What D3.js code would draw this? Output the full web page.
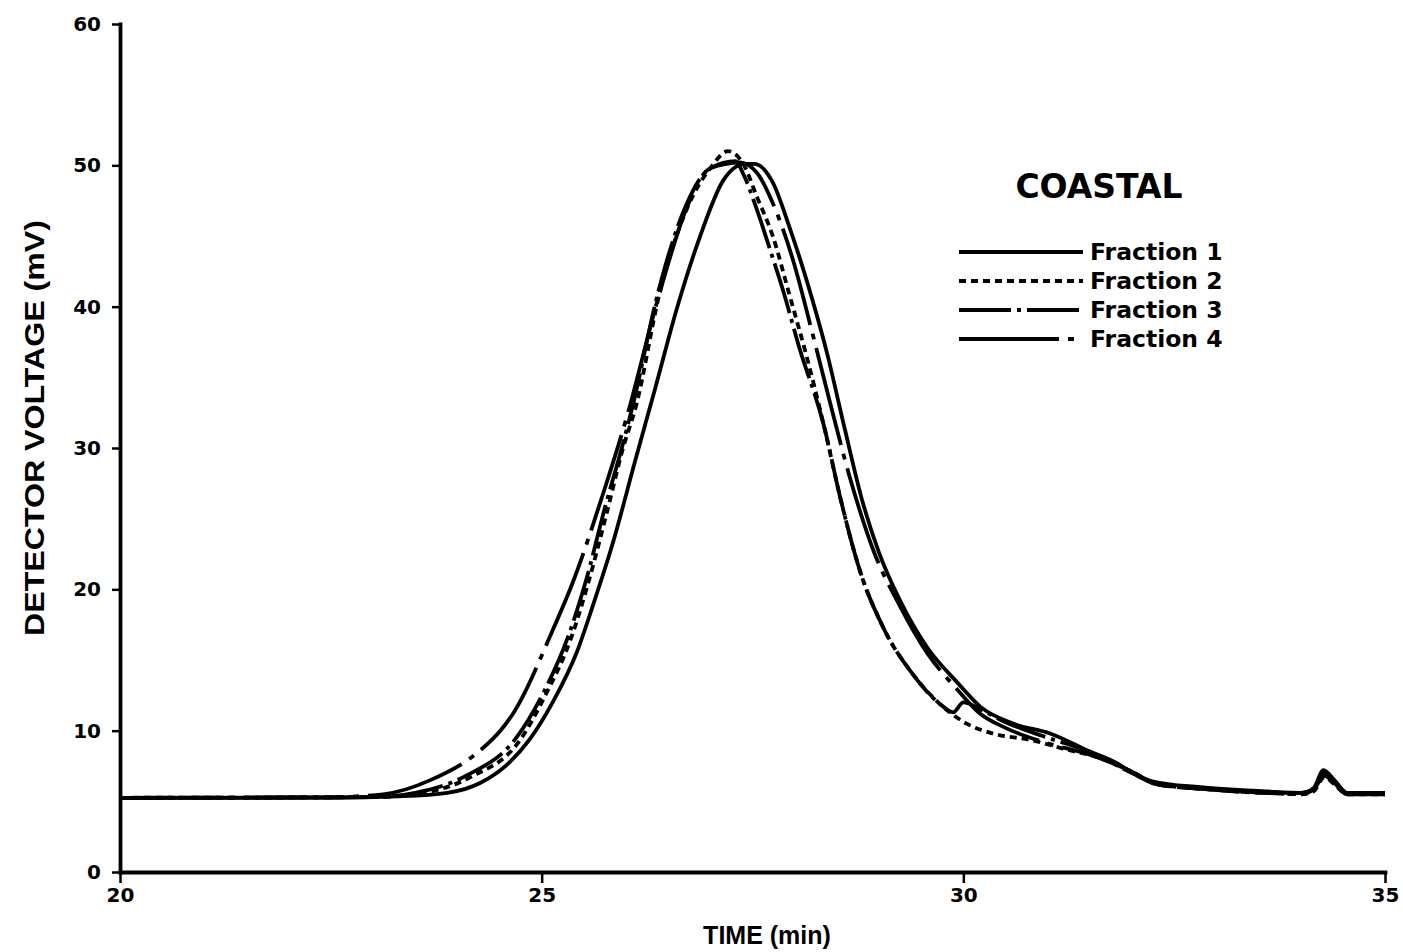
<!DOCTYPE html>
<html>
<head>
<meta charset="utf-8">
<script src="https://cdn.jsdelivr.net/npm/d3@7"></script>
<style>
  html, body { margin: 0; padding: 0; background: #fff; }
  svg { display: block; }
  text { font-family: "DejaVu Sans", "Liberation Sans", Arial, sans-serif; font-weight: bold; fill: #000; }
</style>
</head>
<body>
<svg id="chart" width="1403" height="952"></svg>
<script>
// ---- data ----
const timeTicks = [20, 25, 30, 35];
const voltTicks = [0, 10, 20, 30, 40, 50, 60];
const seriesNames = ["Fraction 1", "Fraction 2", "Fraction 3", "Fraction 4"];
const chartTitle = "COASTAL";
const xTitle = "TIME (min)";
const yTitle = "DETECTOR VOLTAGE (mV)";

const f1Time = [20, 22.5, 23.3, 23.88, 24.27, 24.59, 24.86, 25.13, 25.42, 25.61, 25.85, 26.10, 26.35, 26.60, 26.88, 27.15, 27.41, 27.52, 27.74, 27.94, 28.15, 28.38, 28.60, 28.80, 29.00, 29.25, 29.57, 29.93, 30.20, 30.59, 31.03, 31.47, 31.82, 32.01, 32.25, 32.81, 33.60, 34.00, 34.15, 34.27, 34.40, 34.55, 35.0];
const f1Volt = [5.25, 5.25, 5.35, 5.6, 6.3, 7.6, 9.4, 12.0, 15.6, 18.9, 23.4, 28.9, 34.3, 39.8, 45.0, 48.9, 50.1, 50.1, 48.8, 45.6, 41.7, 36.8, 31.2, 26.3, 22.6, 19.2, 15.9, 13.4, 11.7, 10.5, 9.8, 8.6, 7.7, 7.0, 6.4, 6.0, 5.7, 5.6, 5.9, 7.2, 6.5, 5.6, 5.6];

const f2Time = [20, 23.0, 23.6, 24.15, 24.74, 25.06, 25.34, 25.54, 25.78, 25.96, 26.12, 26.40, 26.72, 27.00, 27.21, 27.40, 27.55, 27.74, 27.94, 28.15, 28.35, 28.54, 28.78, 29.05, 29.40, 29.72, 30.04, 30.35, 30.83, 31.20, 31.60, 32.00, 32.30, 32.80, 33.60, 34.00, 34.15, 34.28, 34.40, 34.55, 35.0];
const f2Volt = [5.25, 5.3, 5.6, 6.7, 9.3, 12.7, 16.4, 20.2, 25.6, 29.9, 33.0, 41.0, 46.9, 49.8, 51.0, 50.0, 47.8, 45.0, 40.8, 36.3, 31.5, 26.5, 21.2, 17.3, 14.0, 11.9, 10.5, 9.8, 9.3, 8.7, 8.1, 7.1, 6.2, 5.9, 5.6, 5.5, 5.7, 6.7, 6.2, 5.5, 5.5];

const f3Time = [20, 23.0, 23.5, 24.1, 24.7, 25.03, 25.31, 25.52, 25.76, 25.95, 26.08, 26.38, 26.70, 27.00, 27.30, 27.39, 27.55, 27.71, 27.86, 28.05, 28.35, 28.54, 28.78, 29.05, 29.40, 29.72, 29.88, 30.00, 30.20, 30.50, 31.00, 31.50, 32.00, 32.30, 32.80, 33.60, 34.00, 34.15, 34.28, 34.40, 34.55, 35.0];
const f3Volt = [5.25, 5.3, 5.6, 6.8, 9.5, 12.8, 16.6, 20.5, 26.0, 30.0, 33.0, 41.0, 47.0, 49.8, 50.3, 49.4, 46.9, 44.0, 41.2, 37.2, 31.5, 26.5, 21.2, 17.3, 14.0, 11.9, 11.3, 12.0, 11.5, 10.6, 9.5, 8.5, 7.0, 6.2, 5.9, 5.6, 5.6, 5.9, 7.0, 6.4, 5.6, 5.6];

const f4Time = [20, 22.5, 23.12, 23.68, 24.27, 24.51, 24.66, 25.13, 25.37, 25.73, 26.00, 26.40, 26.72, 27.00, 27.35, 27.55, 27.75, 27.98, 28.22, 28.42, 28.65, 28.95, 29.25, 29.57, 29.93, 30.20, 30.50, 31.00, 31.50, 32.00, 32.30, 32.80, 33.60, 34.00, 34.15, 34.28, 34.40, 34.55, 35.0];
const f4Volt = [5.25, 5.3, 5.5, 6.5, 8.6, 10.0, 11.2, 17.1, 20.5, 26.8, 32.0, 41.0, 47.0, 49.8, 50.2, 49.5, 47.2, 43.3, 37.9, 33.2, 28.0, 22.5, 18.8, 15.5, 12.9, 11.2, 10.2, 9.1, 8.3, 7.1, 6.2, 5.9, 5.6, 5.5, 5.8, 6.8, 6.3, 5.5, 5.5];

// ---- layout / styles ----
const plot = { left: 120, right: 1385, top: 24, bottom: 872 };
const dashes = [null, "7,5", "52,6,4,6", "100,9,6,9"];
const lineW = 3.8;

const svg = d3.select("#chart");
const x = d3.scaleLinear().domain([20, 35]).range([plot.left, plot.right]);
const y = d3.scaleLinear().domain([0, 60]).range([plot.bottom, plot.top]);

const series = [
  { name: seriesNames[0], t: f1Time, v: f1Volt },
  { name: seriesNames[1], t: f2Time, v: f2Volt },
  { name: seriesNames[2], t: f3Time, v: f3Volt },
  { name: seriesNames[3], t: f4Time, v: f4Volt }
].map((s, i) => ({ ...s, dash: dashes[i], pts: s.t.map((tt, k) => [tt, s.v[k]]) }));

// axes
const xAxis = d3.axisBottom(x).tickValues(timeTicks).tickSize(11).tickSizeOuter(0).tickPadding(5);
const yAxis = d3.axisLeft(y).tickValues(voltTicks).tickSize(8).tickSizeOuter(0).tickPadding(11);

const gx = svg.append("g").attr("transform", `translate(0,${plot.bottom})`).call(xAxis);
const gy = svg.append("g").attr("transform", `translate(${plot.left},0)`).call(yAxis);
[gx, gy].forEach(g => {
  g.select(".domain").attr("stroke", "#000").attr("stroke-width", lineW).attr("stroke-linecap", "square");
  g.selectAll(".tick line").attr("stroke", "#000").attr("stroke-width", 2.5);
  g.selectAll(".tick text").attr("font-size", 20).attr("font-weight", "bold")
    .attr("font-family", '"DejaVu Sans", Arial, sans-serif').attr("fill", "#000");
});

// curves
const line = d3.line().x(d => x(d[0])).y(d => y(d[1])).curve(d3.curveMonotoneX);
svg.append("g").selectAll("path").data(series).join("path")
  .attr("d", d => line(d.pts))
  .attr("fill", "none")
  .attr("stroke", "#000")
  .attr("stroke-width", lineW)
  .attr("stroke-linejoin", "round")
  .attr("stroke-dasharray", d => d.dash);

// axis titles
svg.append("text").attr("x", 767).attr("y", 944).attr("text-anchor", "middle")
  .style("font-family", '"Liberation Sans", Arial, sans-serif')
  .attr("font-size", 25).text(xTitle);
svg.append("text").attr("transform", "translate(44,428) rotate(-90)").attr("text-anchor", "middle")
  .style("font-family", '"Liberation Sans", Arial, sans-serif')
  .attr("font-size", 27).attr("textLength", 416).attr("lengthAdjust", "spacingAndGlyphs").text(yTitle);

// legend
svg.append("text").attr("x", 1099).attr("y", 198).attr("text-anchor", "middle")
  .attr("font-size", 33).text(chartTitle);
const leg = svg.append("g");
const legY = [252, 281, 310, 339];
series.forEach((s, i) => {
  leg.append("line").attr("x1", 959).attr("x2", 1083).attr("y1", legY[i]).attr("y2", legY[i])
    .attr("stroke", "#000").attr("stroke-width", lineW).attr("stroke-dasharray", s.dash);
  leg.append("text").attr("x", 1090).attr("y", legY[i] + 8).attr("font-size", 23.5).text(s.name);
});
</script>
</body>
</html>
